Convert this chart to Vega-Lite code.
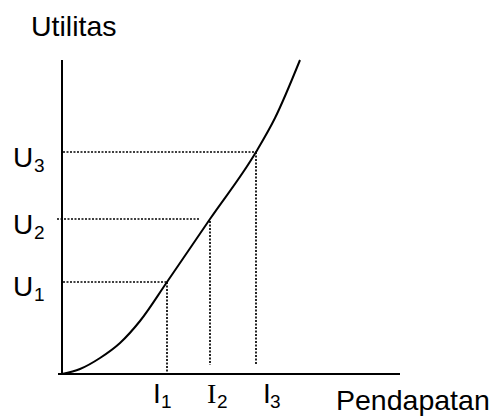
{
  "$schema": "https://vega.github.io/schema/vega-lite/v6.json",
  "width": 494,
  "height": 420,
  "autosize": "none",
  "padding": 0,
  "background": "white",
  "config": {"view": {"stroke": null}},
  "datasets": {
    "curve": [
      {"x": 0, "y": 0}, {"x": 18, "y": 5}, {"x": 38, "y": 16}, {"x": 58, "y": 31},
      {"x": 78, "y": 53}, {"x": 105, "y": 92}, {"x": 148, "y": 155}, {"x": 194, "y": 222},
      {"x": 213, "y": 256}, {"x": 238, "y": 314}
    ],
    "axes": [
      {"name": "yaxis", "x": 0, "x2": 0, "y": -1, "y2": 314},
      {"name": "xaxis", "x": -4, "x2": 338, "y": 0, "y2": 0}
    ],
    "guides": [
      {"name": "U1h", "x": 1, "x2": 105, "y": 92, "y2": 92},
      {"name": "U2h", "x": -5, "x2": 137, "y": 155, "y2": 155},
      {"name": "U3h", "x": 1, "x2": 194, "y": 222, "y2": 222},
      {"name": "I1v", "x": 105, "x2": 105, "y": 92, "y2": -2},
      {"name": "I2v", "x": 148, "x2": 148, "y": 153, "y2": 9},
      {"name": "I3v", "x": 194, "x2": 194, "y": 222, "y2": 9}
    ],
    "titles": [
      {"label": "Utilitas", "x": -31, "y": 338},
      {"label": "Pendapatan", "x": 274, "y": -36}
    ],
    "mainSans": [
      {"label": "U", "x": -49, "y": 207},
      {"label": "U", "x": -49, "y": 140},
      {"label": "U", "x": -49, "y": 78},
      {"label": "I", "x": 91, "y": -29},
      {"label": "I", "x": 201, "y": -29}
    ],
    "mainSerif": [
      {"label": "I", "x": 145, "y": -29}
    ],
    "subs": [
      {"label": "3", "x": -28, "y": 202},
      {"label": "2", "x": -28, "y": 135},
      {"label": "1", "x": -28, "y": 73},
      {"label": "1", "x": 99, "y": -34},
      {"label": "2", "x": 155, "y": -34},
      {"label": "3", "x": 208, "y": -34}
    ]
  },
  "encoding": {
    "x": {"field": "x", "type": "quantitative", "scale": {"domain": [-62, 432], "nice": false, "zero": false}, "axis": null},
    "y": {"field": "y", "type": "quantitative", "scale": {"domain": [-46, 374], "nice": false, "zero": false}, "axis": null}
  },
  "layer": [
    {
      "data": {"name": "guides"},
      "mark": {"type": "rule", "color": "black", "strokeWidth": 1.7, "strokeDash": [2, 1.5]},
      "encoding": {"x2": {"field": "x2"}, "y2": {"field": "y2"}}
    },
    {
      "data": {"name": "axes"},
      "mark": {"type": "rule", "color": "black", "strokeWidth": 2},
      "encoding": {"x2": {"field": "x2"}, "y2": {"field": "y2"}}
    },
    {
      "data": {"name": "curve"},
      "mark": {"type": "line", "color": "black", "strokeWidth": 2, "interpolate": "monotone"},
      "encoding": {"order": {"field": "x", "type": "quantitative"}}
    },
    {
      "data": {"name": "titles"},
      "mark": {"type": "text", "font": "Liberation Sans", "fontSize": 28.5, "align": "left", "baseline": "alphabetic", "color": "black"},
      "encoding": {"text": {"field": "label"}}
    },
    {
      "data": {"name": "mainSans"},
      "mark": {"type": "text", "font": "Liberation Sans", "fontSize": 28, "align": "left", "baseline": "alphabetic", "color": "black"},
      "encoding": {"text": {"field": "label"}}
    },
    {
      "data": {"name": "mainSerif"},
      "mark": {"type": "text", "font": "Liberation Serif", "fontSize": 28, "align": "left", "baseline": "alphabetic", "color": "black"},
      "encoding": {"text": {"field": "label"}}
    },
    {
      "data": {"name": "subs"},
      "mark": {"type": "text", "font": "Liberation Sans", "fontSize": 19, "align": "left", "baseline": "alphabetic", "color": "black"},
      "encoding": {"text": {"field": "label"}}
    }
  ]
}
